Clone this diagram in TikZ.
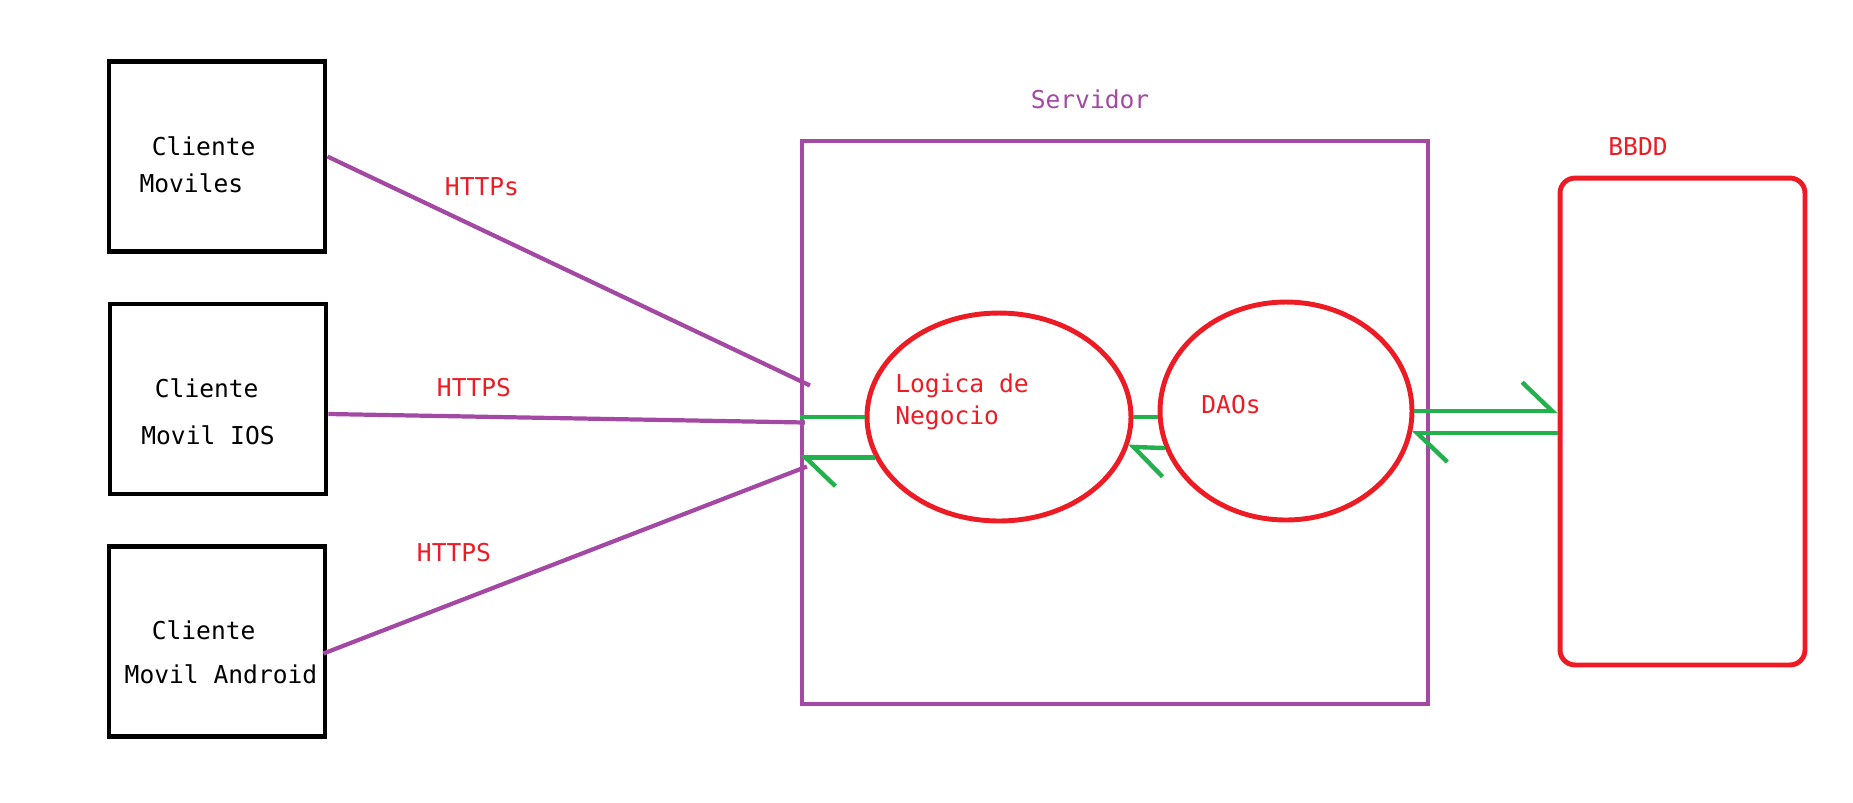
\documentclass[tikz,border=0pt]{standalone}
\usepackage{fontspec}
\setmainfont{DejaVu Sans Mono}
\usepackage{xcolor}
\usetikzlibrary{arrows.meta,positioning,calc,shapes.geometric}
\definecolor{pviolet}{HTML}{A349A4}
\definecolor{pred}{HTML}{ED1C24}
\definecolor{pgreen}{HTML}{22B14C}
\tikzset{
  txt/.style={font=\fontsize{14}{18}\selectfont,inner sep=0pt},
  client/.style={draw=black,line width=2.8pt,minimum width=4.32cm,minimum height=3.8cm},
  ctxt/.style={txt,align=left},
  blob/.style={ellipse,draw=pred,line width=2.8pt,inner sep=0pt},
  wire/.style={pviolet,line width=2.4pt},
  gline/.style={pgreen,line width=2.5pt},
  garrow/.style={gline,-{Straight Barb[harpoon,length=0.6cm,width=1.15cm]}},
}

\begin{document}
\begin{tikzpicture}[x=0.02cm,y=-0.02cm]
\useasboundingbox (0,0) rectangle (1853,802);
% Clients (left)
\node[client] (c1) at (217,156.5) {};
\node[ctxt] (c1txt) at (197.5,164.5) {\hspace{0.5em}Cliente\\[3pt]Moviles};
\node[client] (c2) at (218,399) {};
\node[ctxt] (c2txt) at (208,412) {\hspace{0.55em}Cliente\\[9pt]Movil IOS};
\node[client] (c3) at (217,641.5) {};
\node[ctxt] (c3txt) at (221,652.5) {\hspace{1.1em}Cliente\\[7pt]Movil Android};

% Server with its two parts
\node[draw=pviolet,line width=2.4pt,minimum width=12.52cm,minimum height=11.26cm] (srv) at (1115,422.5) {};
\node[txt,text=pviolet] (srvlbl) at (1090,99) {Servidor};
\node[blob,minimum width=5.28cm,minimum height=4.16cm] (lg) at (999,417) {};
\node[txt,text=pred,align=left] (lgtxt) at (962,402) {Logica de\\Negocio};
\node[blob,minimum width=5.04cm,minimum height=4.36cm] (dao) at (1286,411) {};
\node[txt,text=pred] (daotxt) at (1231,405) {DAOs};

% Database
\node[draw=pred,line width=2.8pt,rounded corners=0.3cm,minimum width=4.9cm,minimum height=9.74cm] (bb) at (1682.5,421.5) {};
\node[txt,text=pred] (bblbl) at (1638,147) {BBDD};

% HTTP links
\coordinate (in1) at ($(srv.west)+(10,-37)$);
\coordinate (in2) at ($(srv.west)+(5,0)$);
\coordinate (in3) at ($(srv.west)+(7,44)$);
\draw[wire] (c1.east) -- (in1);
\draw[wire] ($(c2.east)+(0,15)$) -- (in2);
\draw[wire] ($(c3.east)+(-4,12)$) -- (in3);
\node[txt,text=pred] (h1) at (482,187) {HTTPs};
\node[txt,text=pred] (h2) at (474,388) {HTTPS};
\node[txt,text=pred] (h3) at (454,553) {HTTPS};

% Calls inside the server
\draw[gline] (srv.west |- lg.west) -- (lg.west);
\draw[garrow] (lg.198) -- (srv.west |- lg.198);
\draw[gline] (lg.east) -- (lg.east -| dao.west);
\draw[garrow] (dao.197) -- (lg.347);
\draw[garrow] (dao.east) -- (dao.east -| bb.west);
\draw[garrow] (bb.west |- dao.350) -- (dao.350);
\end{tikzpicture}
\end{document}
